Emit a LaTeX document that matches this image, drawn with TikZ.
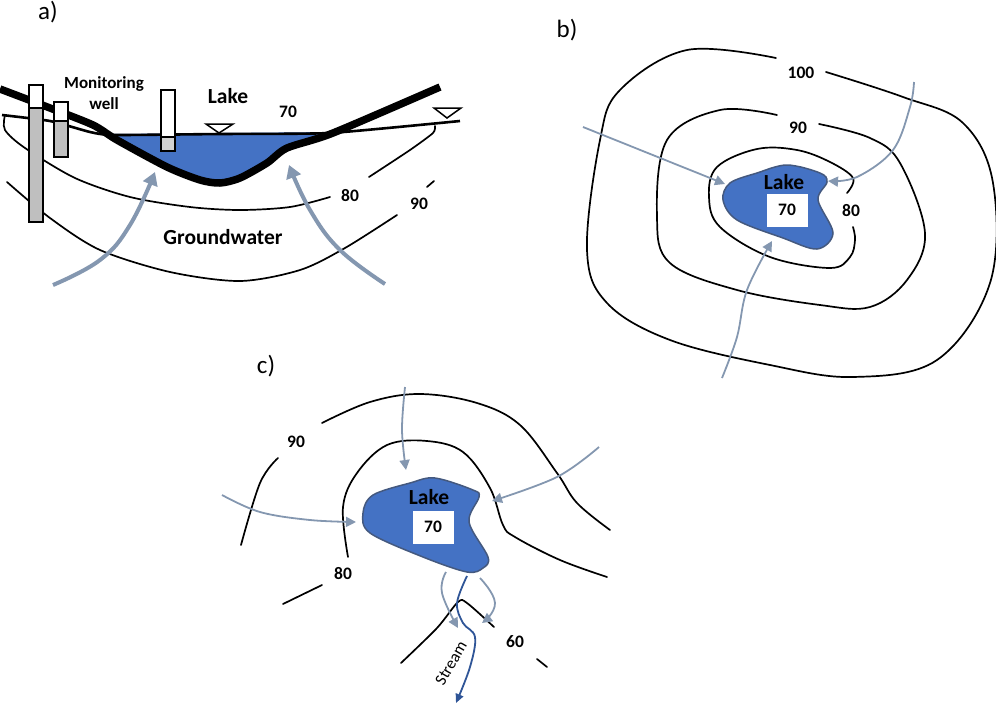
\documentclass[tikz,border=0pt]{standalone}
\usepackage{fontspec}
\setmainfont{Carlito}
\usetikzlibrary{arrows.meta}
\definecolor{lakeblue}{HTML}{4472C4}
\definecolor{lakeedge}{HTML}{44597F}
\definecolor{flowgray}{HTML}{8497B0}
\definecolor{streamblue}{HTML}{2F5597}
\definecolor{wellgray}{HTML}{BFBFBF}
\begin{document}
\begin{tikzpicture}[
  x=1pt,y=-1pt,
  contour/.style={draw=black,line width=1.7pt,line cap=round},
  flow/.style={draw=flowgray,line width=1.8pt,-{Triangle[length=10pt,width=10pt]}},
  bigflow/.style={draw=flowgray,line width=4pt,-{Triangle[length=13pt,width=15pt]}},
  lake/.style={fill=lakeblue,draw=lakeedge,line width=1.5pt},
  well/.style={draw=black,line width=1.9pt},
  level/.style={font=\fontsize{17.5}{17.5}\bfseries,inner sep=0pt},
  title/.style={font=\fontsize{25}{25}\selectfont,inner sep=0pt},
  whitebox/.style={fill=white,inner sep=0pt,minimum width=41pt,minimum height=33pt,font=\fontsize{17.5}{17.5}\bfseries},
  lakename/.style={font=\fontsize{21.5}{21.5}\bfseries,inner sep=0pt},
  tri/.style={draw=black,fill=white,line width=1.5pt},
]
\useasboundingbox (0,0) rectangle (996,705);

% a)
\node[title] (titlea) at (48,12) {a)};
\draw[contour] plot[smooth] coordinates {(5,115) (5,130) (25,148) (75,178) (130,197) (190,207) (240,210) (290,207) (330,197)};
\draw[contour] plot[smooth,tension=.4] coordinates {(369,177) (410,150) (433,133) (435,126)};
\draw[contour] plot[smooth] coordinates {(7,182) (50,218) (100,250) (170,272) (240,281) (300,270) (345,248) (397,215)};
\draw[contour] (427,187) -- (434,181);
\fill[lakeblue] (113,134) -- (333,132) -- (287,148) -- (267,163) -- (240,178) -- (220,183) -- (200,180) -- (167,167) -- (117,140) -- cycle;
\draw[line width=2.6pt] plot[smooth,tension=.3] coordinates {(2,115) (50,121) (90,132) (113,135) (220,134) (330,133) (460,121)};
\draw[line width=7.5pt,line join=round] plot[smooth,tension=.45] coordinates {(0,89) (50,108) (93,125) (117,140) (167,167) (200,180) (220,183) (240,178) (267,163) (287,148) (333,133) (440,87)};
\draw[bigflow] plot[smooth,tension=.7] coordinates {(53,285) (100,260) (130,225) (155,172)};
\draw[bigflow] plot[smooth,tension=.7] coordinates {(385,284) (340,250) (310,210) (289,165)};
\draw[well,fill=white] (29,85) rectangle (43,108);
\draw[well,fill=wellgray] (29,108) rectangle (43,222);
\draw[well,fill=white] (54,102) rectangle (68,121);
\draw[well,fill=wellgray] (54,121) rectangle (68,157);
\draw[well,fill=white] (161,90) rectangle (175,137);
\draw[well,fill=wellgray!70] (161,137) rectangle (175,151);
\draw[tri] (206,124) -- (233,124) -- (219,133) -- cycle;
\draw[tri] (434,108) -- (461,108) -- (447,118) -- cycle;
\node[level,align=center,font=\fontsize{17}{21}\bfseries] (wella) at (104,93) {Monitoring\\well};
\node[lakename] (lakea) at (228,96) {Lake};
\node[level] (a70) at (288,112) {70};
\node[level] (a80) at (350,196) {80};
\node[level] (a90) at (419,204) {90};
\node[lakename] (gwa) at (223,237) {Groundwater};

% b)
\node[title] (titleb) at (567,30) {b)};
\draw[contour] plot[smooth,tension=.6] coordinates {(826,72) (903,97) (963,123) (993,183) (990,283) (937,360) (853,377) (770,365) (670,340) (607,303) (587,250) (600,140) (620,90) (687,50) (776,58)};
\draw[contour] plot[smooth,tension=.6] coordinates {(819,124) (870,138) (900,163) (925,233) (907,280) (870,307) (820,305) (737,290) (670,263) (657,217) (667,140) (720,110) (777,115)};
\draw[contour] plot[smooth,tension=.6] coordinates {(847,193) (853,178) (830,162) (797,150) (757,149) (717,167) (709,197) (720,227) (770,257) (830,268) (850,257) (855,240) (853,227)};
\draw[lake] plot[smooth cycle,tension=.55] coordinates {(787,165) (820,173) (827,182) (818,200) (833,233) (817,249) (783,238) (737,220) (723,200) (730,183) (757,173)};
\node[whitebox] (b70) at (787,210) {70};
\node[lakename] (lakeb) at (784,182) {Lake};
\draw[flow] (583,127) -- (725,184);
\draw[flow] plot[smooth,tension=.6] coordinates {(914,82) (910,107) (893,150) (857,177) (828,181)};
\draw[flow] plot[smooth,tension=.6] coordinates {(722,378) (737,337) (747,290) (772,241)};
\node[level] (b100) at (801,73) {100};
\node[level] (b90) at (798,128) {90};
\node[level] (b80) at (851,211) {80};

% c)
\node[title] (titlec) at (266,366) {c)};
\draw[contour] plot[smooth,tension=.6] coordinates {(322,423) (370,402) (420,394) (477,403) (520,425) (557,473) (577,503) (610,530)};
\draw[contour] plot[smooth,tension=.6] coordinates {(278,458) (260,483) (241,545)};
\draw[contour] plot[smooth,tension=.6] coordinates {(348,557) (343,507) (357,473) (387,445) (427,441) (463,452) (490,488) (503,525) (515,537) (560,560) (607,577)};
\draw[contour] (322,585) -- (283,604);
\draw[contour] plot[smooth,tension=.5] coordinates {(401,663) (437,628) (458,602) (467,603) (494,627)};
\draw[contour] (537,659) -- (547,667);
\draw[lake] plot[smooth cycle,tension=.55] coordinates {(435,478) (473,490) (479,497) (469,522) (488,557) (483,568) (467,572) (423,557) (370,533) (363,513) (373,495) (410,483)};
\node[whitebox] (c70) at (433,527) {70};
\node[lakename] (lakec) at (429,497) {Lake};
\draw[flow] plot[smooth,tension=.6] coordinates {(405,387) (402,430) (406,470)};
\draw[flow] plot[smooth,tension=.6] coordinates {(222,495) (260,512) (310,520) (356,522)};
\draw[flow] plot[smooth,tension=.6] coordinates {(599,447) (557,477) (492,501)};
\draw[flow] plot[smooth,tension=.7] coordinates {(446,572) (442,593) (458,628)};
\draw[flow] plot[smooth,tension=.8] coordinates {(480,578) (495,603) (482,623)};
\draw[draw=streamblue,line width=1.8pt,-{Triangle[length=9pt,width=8pt]}] plot[smooth,tension=.6] coordinates {(467,576) (457,603) (463,623) (475,637) (470,667) (456,703)};
\node[rotate=60,font=\fontsize{16.5}{16.5}\selectfont,inner sep=0pt] (streamc) at (451,663) {Stream};
\node[level] (c90) at (296,442) {90};
\node[level] (c80) at (343,574) {80};
\node[level] (c60) at (515,642) {60};
\end{tikzpicture}
\end{document}
